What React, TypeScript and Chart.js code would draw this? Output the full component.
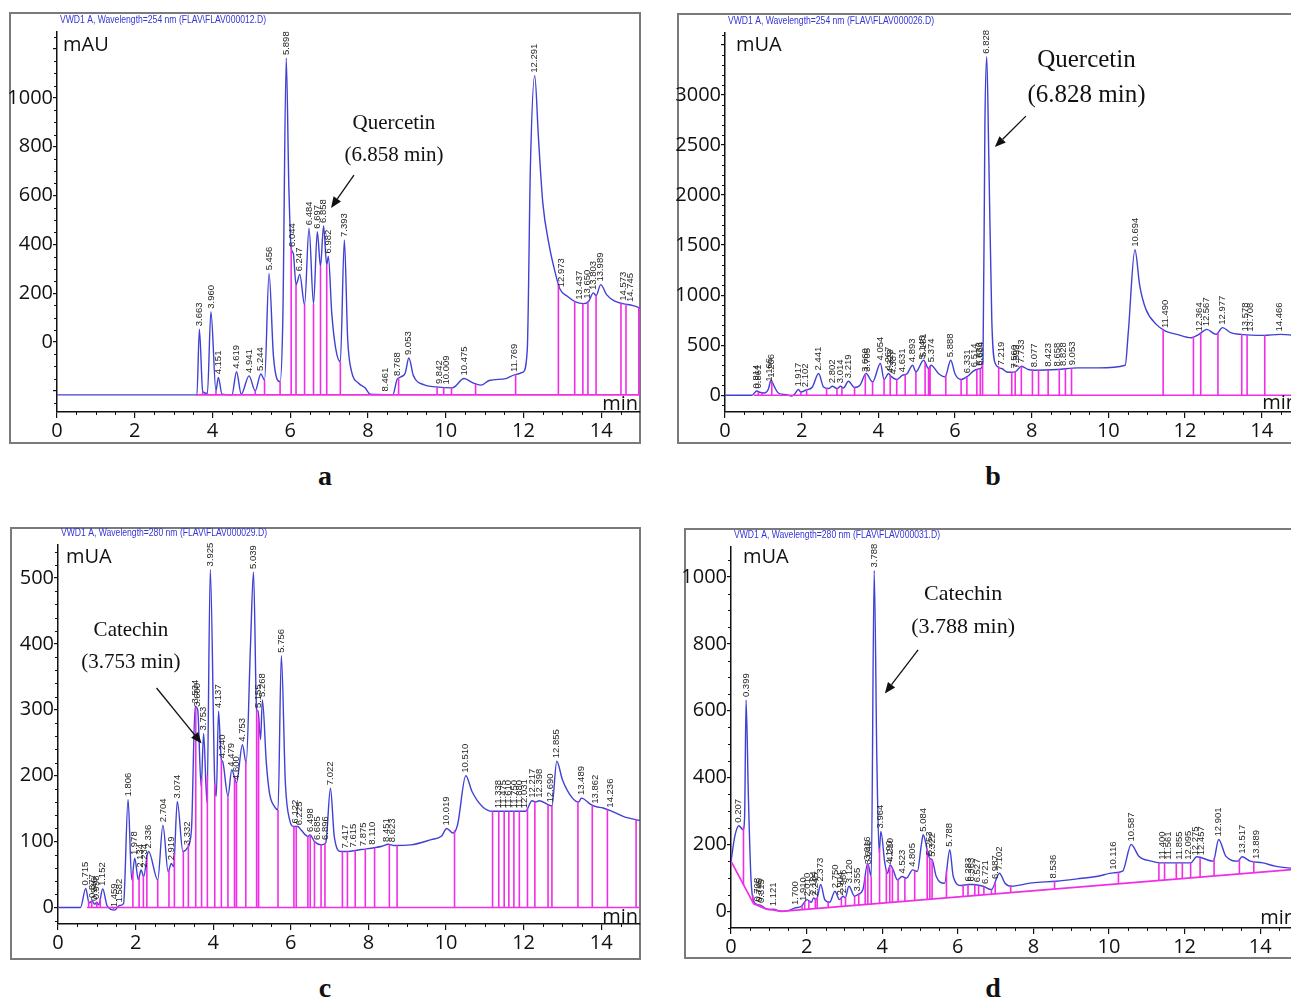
import React, { useEffect, useRef } from 'react';
import { Chart, registerables } from 'chart.js';

Chart.register(...registerables);

if (typeof document !== 'undefined') {
  document.body.style.margin = '0';
  document.body.style.overflow = 'hidden';
}

// ---------------- shared ----------------
const X_TICKS = [0, 2, 4, 6, 8, 10, 12, 14];

// ---------------- panel a ----------------
const TITLE_A = 'VWD1 A, Wavelength=254 nm (FLAV\\FLAV000012.D)';
const UNIT_A = 'mAU';
const TIME_A = [0, 3.6, 3.663, 3.75, 3.87, 3.96, 4.09, 4.151, 4.245, 4.5, 4.619, 4.74, 4.941, 5.1, 5.244, 5.34, 5.456, 5.57, 5.74, 5.81, 5.898, 5.965, 6.025, 6.08, 6.15, 6.247, 6.37, 6.484, 6.6, 6.697, 6.78, 6.858, 6.94, 6.982, 7.07, 7.17, 7.29, 7.393, 7.48, 7.58, 7.76, 7.93, 8.06, 8.64, 8.75, 8.85, 8.96, 9.053, 9.17, 9.43, 9.75, 10.17, 10.475, 10.7, 10.91, 11.12, 11.55, 11.79, 11.99, 12.1, 12.18, 12.291, 12.39, 12.5, 12.66, 12.82, 12.94, 13.13, 13.34, 13.55, 13.68, 13.8, 13.87, 13.989, 14.14, 14.35, 14.56, 14.82, 15];
const SIGNAL_A = [-217, -217, 52, -204, -211, 124, -200, -145, -214, -217, -122, -214, -139, -200, -131, -156, 281, -60, -163, 90, 1163, 637, 384, 363, 234, 277, 152, 466, 156, 452, 309, 475, 316, 350, 117, -26, -81, 418, 8, -122, -169, -189, -214, -216, -154, -143, -127, -66, -138, -175, -184, -188, -150, -168, -177, -158, -150, -134, -124, -31, 719, 1091, 829, 569, 399, 283, 217, 187, 164, 157, 167, 201, 190, 235, 194, 167, 157, 149, 139];
const BASE_TIME_A = [3.58, 15];
const BASE_SIGNAL_A = [-217, -217];
const DROPS_A = [3.75, 3.87, 4.09, 4.245, 4.5, 4.74, 5.1, 5.34, 5.74, 6.025, 6.15, 6.37, 6.6, 6.78, 6.94, 7.29, 8.44, 8.79, 9.78, 9.95, 10.15, 10.77, 11.8, 12.9, 13.32, 13.53, 13.66, 13.87, 14.51, 14.64, 14.97];
const PEAKS_A = ['3.663', '3.960', '4.151', '4.619', '4.941', '5.244', '5.456', '5.898', '6.044', '6.247', '6.484', '6.697', '6.858', '6.982', '7.393', '8.461', '8.768', '9.053', '9.842', '10.009', '10.475', '11.769', '12.291', '12.973', '13.437', '13.650', '13.803', '13.989', '14.573', '14.745'];
const Y_TICKS_A = [-200, 0, 200, 400, 600, 800, 1000, 1200];
const Y_LABELS_A = [0, 200, 400, 600, 800, 1000];
const NOTE_A = ['Quercetin', '(6.858 min)'];

// ---------------- panel b ----------------
const TITLE_B = 'VWD1 A, Wavelength=254 nm (FLAV\\FLAV000026.D)';
const UNIT_B = 'mUA';
const TIME_B = [0, 0.7, 0.83, 0.9, 1.04, 1.13, 1.2, 1.29, 1.39, 1.6, 1.74, 1.8, 1.917, 1.98, 2.102, 2.28, 2.441, 2.57, 2.7, 2.802, 2.92, 3.014, 3.09, 3.219, 3.38, 3.52, 3.68, 3.85, 4.054, 4.15, 4.267, 4.33, 4.48, 4.631, 4.75, 4.893, 4.98, 5.181, 5.31, 5.374, 5.57, 5.74, 5.888, 6.005, 6.16, 6.331, 6.514, 6.664, 6.73, 6.78, 6.828, 6.88, 6.96, 7.05, 7.219, 7.35, 7.5, 7.593, 7.733, 7.91, 8.077, 8.67, 9.2, 9.74, 10.44, 10.52, 10.694, 10.82, 10.98, 11.25, 11.49, 11.79, 12.16, 12.364, 12.567, 12.81, 12.977, 13.19, 13.46, 14.05, 14.48, 15];
const SIGNAL_B = [0, 0, 43, 30, 23, 60, 150, 83, 23, 5, -7, 5, 57, 33, 50, 83, 217, 83, 67, 90, 67, 90, 73, 140, 77, 100, 217, 133, 317, 157, 217, 190, 157, 200, 215, 300, 233, 350, 267, 300, 217, 183, 350, 210, 157, 190, 250, 267, 330, 2700, 3380, 2417, 750, 317, 267, 233, 230, 240, 290, 257, 250, 257, 274, 274, 300, 625, 1453, 1092, 858, 708, 641, 608, 574, 608, 658, 608, 675, 625, 608, 598, 608, 590];
const BASE_TIME_B = [0.75, 15];
const BASE_SIGNAL_B = [0, 0];
const DROPS_B = [0.87, 0.97, 1.22, 1.98, 2.13, 2.65, 2.92, 3.05, 3.38, 3.66, 3.85, 4.15, 4.31, 4.48, 4.7, 4.98, 5.22, 5.31, 5.35, 5.76, 6.16, 6.31, 6.57, 6.66, 6.72, 7.14, 7.48, 7.57, 7.73, 8.02, 8.18, 8.43, 8.72, 8.88, 9.04, 11.43, 12.22, 12.41, 12.86, 13.48, 13.62, 14.08];
const PEAKS_B = ['0.814', '0.861', '1.166', '1.206', '1.917', '2.102', '2.441', '2.802', '3.014', '3.219', '3.660', '3.705', '4.054', '4.267', '4.323', '4.387', '4.631', '4.893', '5.145', '5.181', '5.374', '5.888', '6.331', '6.514', '6.636', '6.664', '6.828', '7.219', '7.560', '7.593', '7.733', '8.077', '8.423', '8.658', '8.828', '9.053', '10.694', '11.490', '12.364', '12.567', '12.977', '13.578', '13.708', '14.466'];
const Y_TICKS_B = [0, 500, 1000, 1500, 2000, 2500, 3000, 3500];
const Y_LABELS_B = [0, 500, 1000, 1500, 2000, 2500, 3000];
const NOTE_B = ['Quercetin', '(6.828 min)'];

// ---------------- panel c ----------------
const TITLE_C = 'VWD1 A, Wavelength=280 nm (FLAV\\FLAV000029.D)';
const UNIT_C = 'mUA';
const TIME_C = [0, 0.58, 0.715, 0.8, 0.877, 0.95, 1.0, 1.05, 1.152, 1.27, 1.459, 1.582, 1.69, 1.806, 1.9, 1.978, 2.07, 2.14, 2.21, 2.3, 2.336, 2.57, 2.704, 2.84, 2.919, 2.98, 3.074, 3.22, 3.332, 3.44, 3.534, 3.6, 3.69, 3.753, 3.84, 3.925, 4.04, 4.08, 4.137, 4.21, 4.24, 4.38, 4.479, 4.6, 4.753, 4.85, 4.96, 5.039, 5.12, 5.155, 5.22, 5.268, 5.37, 5.45, 5.58, 5.67, 5.756, 5.86, 5.97, 6.08, 6.18, 6.26, 6.44, 6.498, 6.61, 6.78, 6.9, 7.022, 7.12, 7.29, 7.42, 7.82, 8.35, 8.51, 8.66, 9.09, 9.62, 9.88, 10.019, 10.18, 10.3, 10.51, 10.67, 10.94, 11.2, 12.05, 12.217, 12.31, 12.398, 12.63, 12.73, 12.855, 13.0, 13.26, 13.42, 13.489, 13.74, 13.862, 14.05, 14.236, 14.58, 15];
const SIGNAL_C = [0, 0, 29, 7, 10, 5, 8, 4, 28, 2, -4, 3, 6, 164, 42, 75, 42, 57, 47, 80, 85, 42, 125, 54, 67, 62, 161, 85, 90, 118, 305, 300, 183, 264, 159, 513, 189, 169, 298, 224, 222, 169, 209, 189, 247, 219, 396, 509, 300, 298, 255, 315, 219, 174, 153, 148, 382, 189, 133, 123, 123, 118, 108, 110, 100, 95, 98, 181, 108, 85, 85, 88, 93, 96, 94, 95, 103, 108, 120, 113, 126, 200, 176, 153, 146, 146, 162, 160, 162, 156, 154, 222, 194, 166, 160, 166, 156, 153, 151, 147, 138, 132];
const BASE_TIME_C = [0.75, 15];
const BASE_SIGNAL_C = [0, 0];
const DROPS_C = [0.79, 0.87, 1.0, 1.09, 1.43, 1.56, 1.93, 2.09, 2.2, 2.29, 2.57, 2.86, 3.0, 3.23, 3.36, 3.55, 3.7, 3.85, 4.04, 4.21, 4.38, 4.55, 4.6, 4.84, 5.12, 5.17, 5.67, 6.08, 6.14, 6.44, 6.5, 6.61, 6.78, 6.88, 7.33, 7.46, 7.66, 7.92, 8.16, 8.54, 8.74, 10.22, 11.2, 11.36, 11.5, 11.62, 11.75, 11.89, 12.1, 12.29, 12.63, 12.73, 13.4, 13.77, 14.16, 14.9];
const PEAKS_C = ['0.715', '0.877', '0.946', '0.998', '1.152', '1.459', '1.582', '1.806', '1.978', '2.134', '2.234', '2.336', '2.704', '2.919', '3.074', '3.332', '3.534', '3.600', '3.753', '3.925', '4.137', '4.240', '4.479', '4.600', '4.753', '5.039', '5.155', '5.268', '5.756', '6.122', '6.225', '6.498', '6.685', '6.896', '7.022', '7.417', '7.615', '7.875', '8.110', '8.451', '8.623', '10.019', '10.510', '11.338', '11.475', '11.610', '11.750', '11.880', '12.031', '12.217', '12.398', '12.690', '12.855', '13.489', '13.862', '14.236'];
const Y_TICKS_C = [0, 100, 200, 300, 400, 500];
const Y_LABELS_C = [0, 100, 200, 300, 400, 500];
const NOTE_C = ['Catechin', '(3.753 min)'];

// ---------------- panel d ----------------
const TITLE_D = 'VWD1 A, Wavelength=280 nm (FLAV\\FLAV000031.D)';
const UNIT_D = 'mUA';
const TIME_D = [0, 0.1, 0.207, 0.32, 0.36, 0.399, 0.46, 0.53, 0.6, 0.708, 0.8, 0.89, 0.98, 1.121, 1.33, 1.51, 1.7, 1.86, 1.93, 2.01, 2.13, 2.184, 2.26, 2.373, 2.48, 2.61, 2.75, 2.87, 2.966, 3.02, 3.12, 3.27, 3.355, 3.49, 3.616, 3.71, 3.788, 3.86, 3.92, 3.964, 4.07, 4.14, 4.21, 4.29, 4.4, 4.523, 4.64, 4.805, 4.93, 5.03, 5.084, 5.19, 5.253, 5.322, 5.43, 5.65, 5.788, 5.88, 6.09, 6.283, 6.4, 6.67, 6.89, 7.102, 7.25, 7.42, 7.96, 8.61, 9.16, 9.7, 10.116, 10.36, 10.587, 10.79, 11.12, 11.34, 12.16, 12.32, 12.76, 12.901, 13.09, 13.41, 13.517, 13.74, 14.07, 14.39, 15];
const SIGNAL_D = [149, 224, 256, 244, 283, 632, 343, 94, 30, 20, 17, 10, 5, 6, 0, 2, 10, 15, 25, 35, 27, 40, 35, 80, 35, 27, 60, 35, 45, 40, 75, 45, 50, 65, 144, 104, 1020, 443, 174, 239, 144, 114, 139, 124, 94, 104, 99, 124, 119, 194, 229, 184, 159, 154, 104, 84, 184, 104, 77, 80, 80, 75, 65, 114, 84, 75, 85, 90, 97, 105, 115, 120, 200, 165, 150, 145, 145, 163, 150, 215, 165, 150, 163, 150, 145, 135, 127];
const BASE_TIME_D = [0, 0.6, 0.9, 1.33, 15];
const BASE_SIGNAL_D = [150, 22, 8, 0, 126];
const DROPS_D = [0.33, 0.58, 0.7, 0.8, 0.98, 1.16, 1.88, 1.95, 2.06, 2.23, 2.28, 2.57, 2.92, 3.03, 3.27, 3.38, 3.55, 3.62, 3.71, 3.93, 4.11, 4.2, 4.27, 4.42, 4.6, 4.86, 5.19, 5.26, 5.32, 5.7, 6.14, 6.27, 6.45, 6.55, 6.69, 6.89, 6.99, 7.4, 8.56, 10.25, 11.32, 11.47, 11.78, 11.94, 12.16, 12.41, 12.78, 13.45, 13.83];
const PEAKS_D = ['0.207', '0.399', '0.708', '0.745', '0.815', '1.121', '1.700', '1.910', '2.010', '2.184', '2.245', '2.373', '2.750', '2.904', '2.966', '3.120', '3.355', '3.616', '3.646', '3.788', '3.964', '4.190', '4.210', '4.523', '4.805', '5.084', '5.253', '5.322', '5.788', '6.283', '6.363', '6.527', '6.721', '6.987', '7.102', '8.536', '10.116', '10.587', '11.400', '11.561', '11.855', '12.095', '12.275', '12.457', '12.901', '13.517', '13.889'];
const Y_TICKS_D = [0, 200, 400, 600, 800, 1000];
const Y_LABELS_D = [0, 200, 400, 600, 800, 1000];
const NOTE_D = ['Catechin', '(3.788 min)'];

// ---------------- styles ----------------
const BLUE = '#4040d4';
const MAGENTA = '#f02ee6';
const AXIS = '#111111';
const TICK_FONT = '"Open Sans", "Liberation Sans", sans-serif';

type PanelCfg = {
  id: string;
  caption: string;
  title: string;
  unit: string;
  time: number[];
  signal: number[];
  baseTime: number[];
  baseSignal: number[];
  drops: number[];
  peaks: string[];
  yTicks: number[];
  yLabels: number[];
  yMin: number;
  yMax: number;
  yMinor: number;
  note: string[];
  noteAt: [number, number][];
  arrow: [[number, number], [number, number]];
  noteFont: number;
  chart: { l: number; t: number; r: number; b: number };
  box: { x: number; y: number; w: number; h: number };
  unitDx: number;
  unitDy: number;
  minDy: number;
  captionAt: [number, number];
};

const PANELS: PanelCfg[] = [
  {
    id: 'a', caption: 'a', title: TITLE_A, unit: UNIT_A, time: TIME_A, signal: SIGNAL_A,
    baseTime: BASE_TIME_A, baseSignal: BASE_SIGNAL_A, drops: DROPS_A, peaks: PEAKS_A,
    yTicks: Y_TICKS_A, yLabels: Y_LABELS_A, yMin: -287, yMax: 1270, yMinor: 50,
    note: NOTE_A, noteAt: [[8.67, 897], [8.67, 766]], arrow: [[7.64, 684], [7.05, 549]], noteFont: 21,
    chart: { l: 57, t: 32, r: 640, b: 412 }, box: { x: 9, y: 12, w: 632, h: 432 },
    unitDx: 6, unitDy: 13, minDy: 8, captionAt: [325, 476],
  },
  {
    id: 'b', caption: 'b', title: TITLE_B, unit: UNIT_B, time: TIME_B, signal: SIGNAL_B,
    baseTime: BASE_TIME_B, baseSignal: BASE_SIGNAL_B, drops: DROPS_B, peaks: PEAKS_B,
    yTicks: Y_TICKS_B, yLabels: Y_LABELS_B, yMin: -167, yMax: 3617, yMinor: 100,
    note: NOTE_B, noteAt: [[9.43, 3346], [9.43, 2997]], arrow: [[7.85, 2787], [7.04, 2478]], noteFont: 25,
    chart: { l: 725, t: 33, r: 1300, b: 412 }, box: { x: 677, y: 13, w: 630, h: 431 },
    unitDx: 11, unitDy: 12, minDy: 9, captionAt: [993, 476],
  },
  {
    id: 'c', caption: 'c', title: TITLE_C, unit: UNIT_C, time: TIME_C, signal: SIGNAL_C,
    baseTime: BASE_TIME_C, baseSignal: BASE_SIGNAL_C, drops: DROPS_C, peaks: PEAKS_C,
    yTicks: Y_TICKS_C, yLabels: Y_LABELS_C, yMin: -25, yMax: 550, yMinor: 20,
    note: NOTE_C, noteAt: [[1.88, 420], [1.88, 371]], arrow: [[2.54, 333], [3.7, 249]], noteFont: 21,
    chart: { l: 58, t: 545, r: 640, b: 924 }, box: { x: 10, y: 527, w: 631, h: 433 },
    unitDx: 8, unitDy: 12, minDy: 7, captionAt: [325, 988],
  },
  {
    id: 'd', caption: 'd', title: TITLE_D, unit: UNIT_D, time: TIME_D, signal: SIGNAL_D,
    baseTime: BASE_TIME_D, baseSignal: BASE_SIGNAL_D, drops: DROPS_D, peaks: PEAKS_D,
    yTicks: Y_TICKS_D, yLabels: Y_LABELS_D, yMin: -50, yMax: 1090, yMinor: 50,
    note: NOTE_D, noteAt: [[6.14, 949], [6.14, 851]], arrow: [[4.95, 782], [4.07, 652]], noteFont: 22,
    chart: { l: 731, t: 547, r: 1298, b: 928 }, box: { x: 684, y: 528, w: 620, h: 431 },
    unitDx: 12, unitDy: 10, minDy: 10, captionAt: [993, 988],
  },
];

const PAD_TOP = 22;
const Y_AXIS_W = 57;
const X_AXIS_H = 34;
const PAD_RIGHT = 4;

function interp(xs: number[], ys: number[], t: number): number {
  if (t <= xs[0]) return ys[0];
  for (let i = 1; i < xs.length; i++) {
    if (t <= xs[i]) {
      const f = (t - xs[i - 1]) / (xs[i] - xs[i - 1]);
      return ys[i - 1] + f * (ys[i] - ys[i - 1]);
    }
  }
  return ys[ys.length - 1];
}

function Panel({ cfg }: { cfg: PanelCfg }) {
  const ref = useRef<HTMLCanvasElement>(null);
  const cw = cfg.chart.r - cfg.chart.l + Y_AXIS_W + PAD_RIGHT;
  const chh = cfg.chart.b - cfg.chart.t + PAD_TOP + X_AXIS_H;
  const left = cfg.chart.l - Y_AXIS_W;
  const top = cfg.chart.t - PAD_TOP;

  useEffect(() => {
    const canvas = ref.current;
    if (!canvas) return;
    const trace = cfg.time.map((t, i) => ({ x: t, y: cfg.signal[i] }));
    const base = cfg.baseTime.map((t, i) => ({ x: t, y: cfg.baseSignal[i] }));
    const drops: { x: number; y: number | null }[] = [];
    cfg.drops.forEach((t) => {
      drops.push({ x: t, y: interp(cfg.baseTime, cfg.baseSignal, t) });
      drops.push({ x: t, y: interp(cfg.time, cfg.signal, t) });
      drops.push({ x: t, y: null });
    });

    const extras = {
      id: 'extras_' + cfg.id,
      afterDraw(chart: any) {
        const ctx: CanvasRenderingContext2D = chart.ctx;
        const ca = chart.chartArea;
        const xs = chart.scales.x;
        const ys = chart.scales.y;
        ctx.save();

        // minor ticks
        ctx.strokeStyle = AXIS;
        ctx.lineWidth = 1;
        ctx.beginPath();
        for (let k = 1; k < 30; k++) {
          if (k % 4 === 0) continue;
          const px = Math.round(xs.getPixelForValue(k * 0.5)) + 0.5;
          ctx.moveTo(px, ca.bottom);
          ctx.lineTo(px, ca.bottom + 3);
        }
        const k0 = Math.ceil(cfg.yMin / cfg.yMinor);
        const k1 = Math.floor(cfg.yMax / cfg.yMinor);
        for (let k = k0; k <= k1; k++) {
          const v = k * cfg.yMinor;
          if (cfg.yTicks.includes(v)) continue;
          const py = Math.round(ys.getPixelForValue(v)) + 0.5;
          ctx.moveTo(ca.left - 3, py);
          ctx.lineTo(ca.left, py);
        }
        ctx.stroke();

        // peak labels
        ctx.fillStyle = '#262626';
        ctx.font = '9.5px "Liberation Sans", Arial, sans-serif';
        ctx.textAlign = 'left';
        ctx.textBaseline = 'middle';
        cfg.peaks.forEach((p) => {
          const t = parseFloat(p);
          const px = xs.getPixelForValue(t);
          const py = ys.getPixelForValue(interp(cfg.time, cfg.signal, t)) - 3;
          ctx.save();
          ctx.translate(px, py);
          ctx.rotate(-Math.PI / 2);
          ctx.fillText(p, 0, 0);
          ctx.restore();
        });

        // title
        ctx.save();
        ctx.font = '11px "Liberation Sans", Arial, sans-serif';
        const tw = ctx.measureText(cfg.title).width;
        ctx.translate(ca.left + 3, ca.top - 12);
        ctx.scale(206 / tw, 1);
        ctx.fillStyle = '#3434d8';
        ctx.textAlign = 'left';
        ctx.textBaseline = 'middle';
        ctx.fillText(cfg.title, 0, 0);
        ctx.restore();

        // unit labels
        ctx.fillStyle = '#111111';
        ctx.font = '20px ' + TICK_FONT;
        ctx.textAlign = 'left';
        ctx.textBaseline = 'middle';
        ctx.fillText(cfg.unit, ca.left + cfg.unitDx, ca.top + cfg.unitDy);
        ctx.textAlign = 'right';
        ctx.fillText('min', ca.right - 2, ca.bottom - cfg.minDy);

        // annotation
        ctx.font = cfg.noteFont + 'px "Liberation Serif", "Times New Roman", serif';
        ctx.textAlign = 'center';
        ctx.textBaseline = 'middle';
        ctx.fillStyle = '#111111';
        cfg.note.forEach((line, i) => {
          ctx.fillText(line, xs.getPixelForValue(cfg.noteAt[i][0]), ys.getPixelForValue(cfg.noteAt[i][1]));
        });
        const ax0 = xs.getPixelForValue(cfg.arrow[0][0]);
        const ay0 = ys.getPixelForValue(cfg.arrow[0][1]);
        const ax1 = xs.getPixelForValue(cfg.arrow[1][0]);
        const ay1 = ys.getPixelForValue(cfg.arrow[1][1]);
        const ang = Math.atan2(ay1 - ay0, ax1 - ax0);
        const hl = 11;
        const hw = 4.5;
        const bx = ax1 - hl * Math.cos(ang);
        const by = ay1 - hl * Math.sin(ang);
        ctx.strokeStyle = '#111111';
        ctx.lineWidth = 1.3;
        ctx.beginPath();
        ctx.moveTo(ax0, ay0);
        ctx.lineTo(bx, by);
        ctx.stroke();
        ctx.beginPath();
        ctx.moveTo(ax1, ay1);
        ctx.lineTo(bx + hw * Math.sin(ang), by - hw * Math.cos(ang));
        ctx.lineTo(bx - hw * Math.sin(ang), by + hw * Math.cos(ang));
        ctx.closePath();
        ctx.fill();

        ctx.restore();
      },
    };

    const chart = new Chart(canvas, {
      type: 'line',
      data: {
        datasets: [
          { data: drops as any, borderColor: MAGENTA, borderWidth: 1.6, pointRadius: 0, tension: 0, spanGaps: false },
          { data: base as any, borderColor: MAGENTA, borderWidth: 1.7, pointRadius: 0, tension: 0 },
          { data: trace as any, borderColor: BLUE, borderWidth: 1.4, pointRadius: 0, cubicInterpolationMode: 'monotone' },
        ],
      },
      options: {
        responsive: false,
        animation: false,
        events: [],
        layout: { padding: { top: PAD_TOP, right: PAD_RIGHT, left: 0, bottom: 0 } },
        plugins: { legend: { display: false }, tooltip: { enabled: false }, title: { display: false } },
        scales: {
          x: {
            type: 'linear',
            min: 0,
            max: 15,
            afterBuildTicks: (s: any) => { s.ticks = X_TICKS.map((v) => ({ value: v })); },
            afterFit: (s: any) => { s.height = X_AXIS_H; s.paddingLeft = 0; s.paddingRight = 0; },
            grid: { drawOnChartArea: false, drawTicks: true, tickLength: 6, color: AXIS, lineWidth: 1.2 },
            border: { display: true, color: AXIS, width: 1.5 },
            ticks: {
              autoSkip: false, maxRotation: 0, minRotation: 0, padding: 1, color: '#111111',
              font: { family: TICK_FONT, size: 20 },
              callback: (v: any) => String(v),
            },
          },
          y: {
            type: 'linear',
            min: cfg.yMin,
            max: cfg.yMax,
            afterBuildTicks: (s: any) => { s.ticks = cfg.yTicks.map((v) => ({ value: v })); },
            afterFit: (s: any) => { s.width = Y_AXIS_W; s.paddingTop = 0; s.paddingBottom = 0; },
            grid: { drawOnChartArea: false, drawTicks: true, tickLength: 4, color: AXIS, lineWidth: 1.2 },
            border: { display: true, color: AXIS, width: 1.5 },
            ticks: {
              padding: 0, color: '#111111',
              font: { family: TICK_FONT, size: 20 },
              callback: (v: any) => (cfg.yLabels.includes(Number(v)) ? String(v) : ''),
            },
          },
        },
      } as any,
      plugins: [extras],
    });
    return () => chart.destroy();
  }, [cfg]);

  return (
    <>
      <div
        style={{
          position: 'absolute', left: cfg.box.x, top: cfg.box.y, width: cfg.box.w, height: cfg.box.h,
          boxSizing: 'border-box', border: '2px solid #7a7a7a',
        }}
      />
      <canvas
        ref={ref}
        width={cw}
        height={chh}
        style={{ position: 'absolute', left, top, width: cw, height: chh }}
      />
      <div
        style={{
          position: 'absolute', left: cfg.captionAt[0] - 20, top: cfg.captionAt[1] - 18, width: 40, height: 36,
          lineHeight: '36px', textAlign: 'center', fontFamily: '"Liberation Serif", "Times New Roman", serif',
          fontWeight: 'bold', fontSize: 28, color: '#111',
        }}
      >
        {cfg.caption}
      </div>
    </>
  );
}

export default function App() {
  return (
    <div style={{ position: 'relative', width: 1291, height: 998, overflow: 'hidden', background: '#ffffff' }}>
      {PANELS.map((p) => (
        <Panel key={p.id} cfg={p} />
      ))}
    </div>
  );
}
